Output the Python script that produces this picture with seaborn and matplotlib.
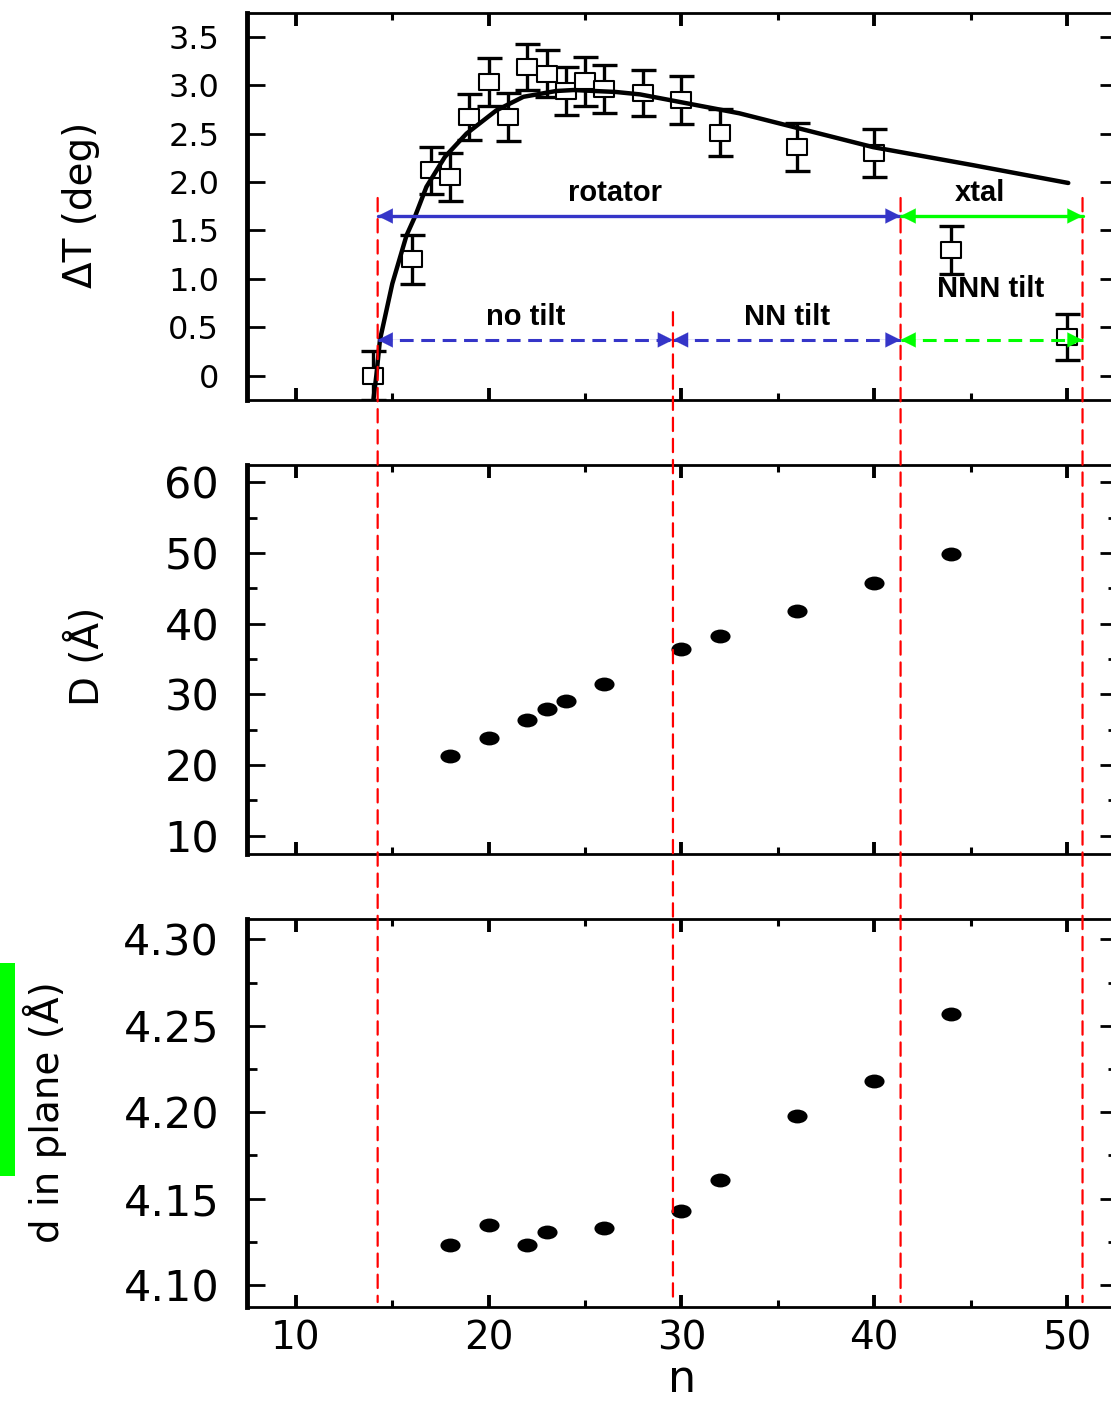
import numpy as np
import pandas as pd
import matplotlib
matplotlib.use("Agg")
import matplotlib.pyplot as plt
import seaborn as sns
from matplotlib.path import Path
from matplotlib.transforms import Affine2D
from matplotlib.patches import ConnectionPatch, Rectangle

# ---- data ----
n_dt = [14, 16, 17, 18, 19, 20, 21, 22, 23, 24, 25, 26, 28, 30, 32, 36, 40, 44, 50]
dt = [0.0, 1.20, 2.12, 2.05, 2.67, 3.03, 2.67, 3.19, 3.12, 2.94, 3.04, 2.96,
      2.92, 2.85, 2.51, 2.36, 2.30, 1.30, 0.40]
dt_err = [0.25, 0.25, 0.24, 0.25, 0.24, 0.25, 0.25, 0.24, 0.24, 0.25, 0.25, 0.25,
          0.24, 0.25, 0.24, 0.25, 0.25, 0.25, 0.24]

fit_n = [14.02, 14.17, 14.36, 15.0, 15.74, 16.17, 16.77, 17.73, 18.85, 20.4,
         21.8, 23.5, 24.4, 26.6, 27.85, 33.0, 39.95, 45.1, 50.07]
fit_dt = [-0.25, 0.0, 0.37, 0.95, 1.45, 1.64, 1.95, 2.26, 2.50, 2.74,
          2.88, 2.94, 2.95, 2.93, 2.905, 2.71, 2.36, 2.175, 1.99]

n_D = [18, 20, 22, 23, 24, 26, 30, 32, 36, 40, 44]
D = [21.3, 23.8, 26.3, 27.9, 29.1, 31.4, 36.4, 38.2, 41.8, 45.7, 49.8]

n_d = [18, 20, 22, 23, 26, 30, 32, 36, 40, 44]
d_plane = [4.123, 4.135, 4.123, 4.1305, 4.133, 4.143, 4.161, 4.198, 4.218, 4.257]

boundaries = [14.24, 29.56, 41.37, 50.81]

dt_ticks = [0, 0.5, 1.0, 1.5, 2.0, 2.5, 3.0, 3.5]
dt_labels = ["0", "0.5", "1.0", "1.5", "2.0", "2.5", "3.0", "3.5"]
D_ticks = [10, 20, 30, 40, 50, 60]
d_ticks = [4.10, 4.15, 4.20, 4.25, 4.30]
d_labels = ["4.10", "4.15", "4.20", "4.25", "4.30"]
n_ticks = [10, 20, 30, 40, 50]

df_dt = pd.DataFrame({"n": n_dt, "dT": dt, "err": dt_err})
df_fit = pd.DataFrame({"n": fit_n, "dT": fit_dt})
df_D = pd.DataFrame({"n": n_D, "D": D})
df_d = pd.DataFrame({"n": n_d, "d": d_plane})

sns.set_style("ticks")
plt.rcParams["font.family"] = ["DejaVu Sans"]
plt.rcParams.update({"text.color": "black", "axes.labelcolor": "black",
                     "xtick.color": "black", "ytick.color": "black",
                     "axes.edgecolor": "black"})

fig = plt.figure(figsize=(11.11, 14.19), dpi=100)
L, W = 0.2223, 0.784
ax1 = fig.add_axes([L, 0.7181, W, 0.2729])
ax2 = fig.add_axes([L, 0.3980, W, 0.2744])
ax3 = fig.add_axes([L, 0.0789, W, 0.2734])

blue = "#3535c8"
green = "#00ff00"

# top panel
ax1.errorbar(df_dt["n"], df_dt["dT"], yerr=df_dt["err"], fmt="none", ecolor="black",
             elinewidth=2.4, capsize=9, capthick=2.4, zorder=2)
rect = Path([(-1.3, -1), (1.3, -1), (1.3, 1), (-1.3, 1), (-1.3, -1)],
            [Path.MOVETO, Path.LINETO, Path.LINETO, Path.LINETO, Path.CLOSEPOLY])
sns.scatterplot(data=df_dt, x="n", y="dT", marker=rect, s=200, facecolor="white",
                edgecolor="black", linewidth=1.5, ax=ax1, zorder=3)
sns.lineplot(data=df_fit, x="n", y="dT", sort=False, estimator=None, color="black",
             lw=3.2, ax=ax1, zorder=4)

# middle and bottom panels
ell = Path.unit_circle().transformed(Affine2D().scale(1.45, 1.0))
sns.scatterplot(data=df_D, x="n", y="D", marker=ell, s=210, color="black",
                linewidth=0, ax=ax2, zorder=3)
sns.scatterplot(data=df_d, x="n", y="d", marker=ell, s=210, color="black",
                linewidth=0, ax=ax3, zorder=3)

for ax in (ax1, ax2, ax3):
    ax.set_xlim(7.46, 52.65)
    ax.set_xticks(n_ticks)
    ax.set_xticks([15, 25, 35, 45], minor=True)
    ax.tick_params(axis="x", which="major", direction="in", top=True, bottom=True,
                   length=9, width=2.8)
    ax.tick_params(axis="x", which="minor", direction="in", top=True, bottom=True,
                   length=5, width=2.2)
    ax.tick_params(axis="y", which="major", direction="in", left=True, right=True,
                   length=13, width=2.0, pad=20)
    ax.tick_params(axis="y", which="minor", direction="in", left=True, right=True,
                   length=7, width=2.0)
    for s in ax.spines.values():
        s.set_linewidth(2.0)
        s.set_visible(True)
    ax.spines["left"].set_linewidth(3.5)
    ax.set_xlabel("")
    ax.set_facecolor("white")

ax1.set_ylim(-0.2515, 3.748)
ax1.set_yticks(dt_ticks)
ax1.set_yticklabels(dt_labels, fontsize=23)
ax1.set_xticklabels([])

ax2.set_ylim(7.37, 62.45)
ax2.set_yticks(D_ticks)
ax2.set_yticks([15, 25, 35, 45, 55], minor=True)
ax2.set_yticklabels([str(v) for v in D_ticks], fontsize=31)
ax2.set_xticklabels([])

ax3.set_ylim(4.0873, 4.3118)
ax3.set_yticks(d_ticks)
ax3.set_yticks([4.125, 4.175, 4.225, 4.275], minor=True)
ax3.set_yticklabels(d_labels, fontsize=31)
ax3.set_xticklabels([str(v) for v in n_ticks], fontsize=28)
ax3.tick_params(axis="x", which="major", pad=9)
ax3.set_xlabel("n", fontsize=32, labelpad=0)

ax1.set_ylabel("ΔT (deg)", fontsize=28, va="center")
ax1.yaxis.set_label_coords(-0.19, 0.503)
ax2.set_ylabel("D (Å)", fontsize=28, va="center")
ax2.yaxis.set_label_coords(-0.184, 0.509)
ax3.set_ylabel("d in plane (Å)", fontsize=28, va="center")
ax3.yaxis.set_label_coords(-0.2315, 0.503)


def harrow(ax, x0, x1, y, color, dashed):
    if dashed:
        ax.plot([x0, x1], [y, y], color=color, lw=2.2, dashes=(4.5, 2.5), zorder=5)
    else:
        ax.plot([x0, x1], [y, y], color=color, lw=2.4, zorder=5)
    for xa, xb in ((x0, x0 + 1.2), (x1, x1 - 1.2)):
        ax.annotate("", xy=(xa, y), xytext=(xb, y),
                    arrowprops=dict(arrowstyle="-|>", color=color, lw=0.1,
                                    mutation_scale=27, shrinkA=0, shrinkB=0),
                    zorder=6)


b0, b1, b2, b3 = boundaries
harrow(ax1, b0, b2, 1.649, blue, False)
harrow(ax1, b2, b3, 1.649, green, False)
harrow(ax1, b0, b1, 0.369, blue, True)
harrow(ax1, b1, b2, 0.369, blue, True)
harrow(ax1, b2, b3, 0.369, green, True)

tkw = dict(fontsize=21, fontweight="bold", family=["Liberation Sans", "DejaVu Sans"],
           ha="center", va="center", zorder=7)
ax1.text(26.55, 1.886, "rotator", **tkw)
ax1.text(45.5, 1.886, "xtal", **tkw)
ax1.text(21.93, 0.605, "no tilt", **tkw)
ax1.text(35.47, 0.605, "NN tilt", **tkw)
ax1.text(46.06, 0.896, "NNN tilt", **tkw)

# red dashed boundaries running through all panels
for xb, ytop in zip(boundaries, [1.835, 0.656, 1.835, 1.835]):
    con = ConnectionPatch(xyA=(xb, ytop), coordsA=ax1.transData,
                          xyB=(xb, 4.0902), coordsB=ax3.transData,
                          color="red", lw=1.6, linestyle=(0, (6, 3.5)), zorder=8)
    fig.add_artist(con)

fig.add_artist(Rectangle((0, 0.1713), 0.0135, 0.1501, transform=fig.transFigure,
                         color=green, lw=0))

fig.savefig("out.png", dpi=100)
